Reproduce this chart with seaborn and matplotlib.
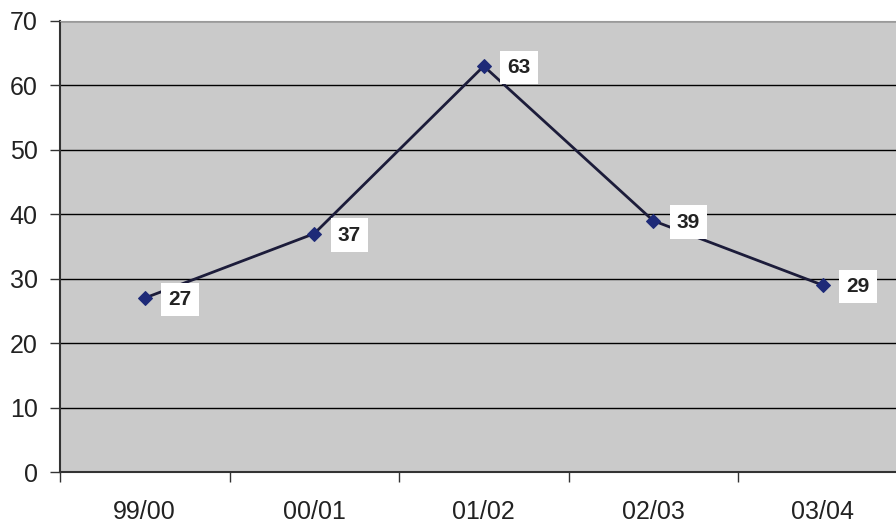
import numpy as np
import pandas as pd
import matplotlib
matplotlib.use("Agg")
import matplotlib.pyplot as plt
import seaborn as sns

# dados do gráfico
seasons = ["99/00", "00/01", "01/02", "02/03", "03/04"]
values = [27, 37, 63, 39, 29]

df = pd.DataFrame({"season": seasons, "value": values, "pos": np.arange(len(seasons))})

plt.rcParams["font.family"] = ["Liberation Sans", "DejaVu Sans"]

fig = plt.figure(figsize=(8.96, 5.23), dpi=100)
ax = fig.add_axes([60 / 896, 51 / 523, 836 / 896, 451 / 523])
ax.set_facecolor("#cacaca")

sns.lineplot(data=df, x="pos", y="value", ax=ax, color="#1c1c3a", linewidth=2,
             marker="D", markersize=7, markerfacecolor="#1e2a78", markeredgecolor="#1e2a78",
             zorder=3)

# rótulos de dados em caixas brancas
for x, y in zip(df["pos"], df["value"]):
    ax.annotate(str(y), (x, y), xytext=(17, -1), textcoords="offset points",
                ha="left", va="center", fontsize=15, fontweight="bold", color="#222222",
                bbox=dict(boxstyle="square,pad=0.35", fc="white", ec="none"), zorder=5)

ax.set_yticks(range(0, 71, 10))
ax.set_xticks(df["pos"])
ax.set_xticklabels(seasons)
ax.set_xticks(np.arange(-0.5, 5, 1), minor=True)
ax.set_ylim(0, 70)
ax.set_xlim(-0.5, -0.5 + 836 / 169.5)

ax.grid(axis="y", color="black", linewidth=1.0, zorder=1)
ax.set_axisbelow(True)
ax.tick_params(axis="x", which="major", length=0, pad=20, labelsize=18, colors="#222222")
ax.tick_params(axis="x", which="minor", length=7, width=1, color="#333333")
ax.tick_params(axis="y", length=7, width=1, pad=9, labelsize=18, color="#333333", labelcolor="#222222")

ax.set_xlabel("")
ax.set_ylabel("")
ax.spines["right"].set_visible(False)
ax.spines["top"].set_color("#9a9a9a")
ax.spines["left"].set_color("#333333")
ax.spines["left"].set_linewidth(1.5)
ax.spines["bottom"].set_color("#333333")
ax.spines["bottom"].set_linewidth(1.5)

fig.savefig("out.png", dpi=100)
